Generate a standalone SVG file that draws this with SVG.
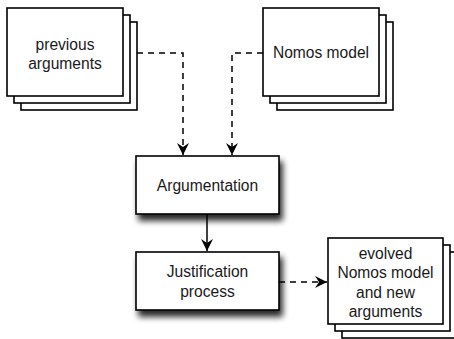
<svg xmlns="http://www.w3.org/2000/svg" width="454" height="339" viewBox="0 0 454 339">
  <style>
    .box { fill: #ffffff; stroke: #000000; stroke-width: 1.6; }
    .label { font-family: "Liberation Sans", Arial, Helvetica, sans-serif; font-size: 15.6px; fill: #1a1a1a; text-anchor: middle; }
    .conn { fill: none; stroke: #000000; stroke-width: 1.5; }
    .dashed { stroke-dasharray: 6 5; }
  </style>
  <defs>
    <filter id="shadow" x="-20%" y="-20%" width="150%" height="160%">
      <feGaussianBlur in="SourceAlpha" stdDeviation="3"/>
      <feOffset dx="3" dy="6" result="blur"/>
      <feComponentTransfer><feFuncA type="linear" slope="0.85"/></feComponentTransfer>
      <feMerge><feMergeNode/><feMergeNode in="SourceGraphic"/></feMerge>
    </filter>
    <marker id="head" markerUnits="userSpaceOnUse" markerWidth="14" markerHeight="14" viewBox="-12 -7 14 14" refX="0" refY="0" orient="auto">
      <path d="M0,0 L-12,-6 L-8,0 L-12,6 Z" fill="#000000"/>
    </marker>
  </defs>

  <!-- connectors -->
  <g id="connectors">
    <path class="conn dashed" d="M137,53 H183 V155" marker-end="url(#head)"/>
    <path class="conn dashed" d="M263,53 H232 V155" marker-end="url(#head)"/>
    <path class="conn" d="M207,214 V251" marker-end="url(#head)"/>
    <path class="conn dashed" d="M279,282 H327" marker-end="url(#head)"/>
  </g>

  <!-- stacked document: previous arguments -->
  <g id="previous-arguments">
    <rect class="box" x="21" y="22" width="116" height="88"/>
    <rect class="box" x="14" y="15" width="116" height="88"/>
    <rect class="box" x="7" y="8" width="116" height="88"/>
    <text class="label" x="65" y="50">previous</text>
    <text class="label" x="65" y="69">arguments</text>
  </g>

  <!-- stacked document: Nomos model -->
  <g id="nomos-model">
    <rect class="box" x="277" y="22" width="116" height="88"/>
    <rect class="box" x="270" y="15" width="116" height="88"/>
    <rect class="box" x="263" y="8" width="116" height="88"/>
    <text class="label" x="321" y="58">Nomos model</text>
  </g>

  <!-- process: Argumentation -->
  <g id="argumentation">
    <rect class="box" x="136" y="156" width="143" height="58" filter="url(#shadow)"/>
    <text class="label" x="207.5" y="190.5">Argumentation</text>
  </g>

  <!-- process: Justification -->
  <g id="justification">
    <rect class="box" x="136" y="252" width="143" height="58" filter="url(#shadow)"/>
    <text class="label" x="207.5" y="277">Justification</text>
    <text class="label" x="207.5" y="297">process</text>
  </g>

  <!-- stacked document: evolved model and new arguments -->
  <g id="evolved-model">
    <rect class="box" x="342" y="252" width="115" height="86"/>
    <rect class="box" x="335" y="245" width="115" height="86"/>
    <rect class="box" x="328" y="238" width="115" height="86"/>
    <text class="label" x="385.5" y="258.5">evolved</text>
    <text class="label" x="385.5" y="278">Nomos model</text>
    <text class="label" x="385.5" y="297.5">and new</text>
    <text class="label" x="385.5" y="317">arguments</text>
  </g>
</svg>
